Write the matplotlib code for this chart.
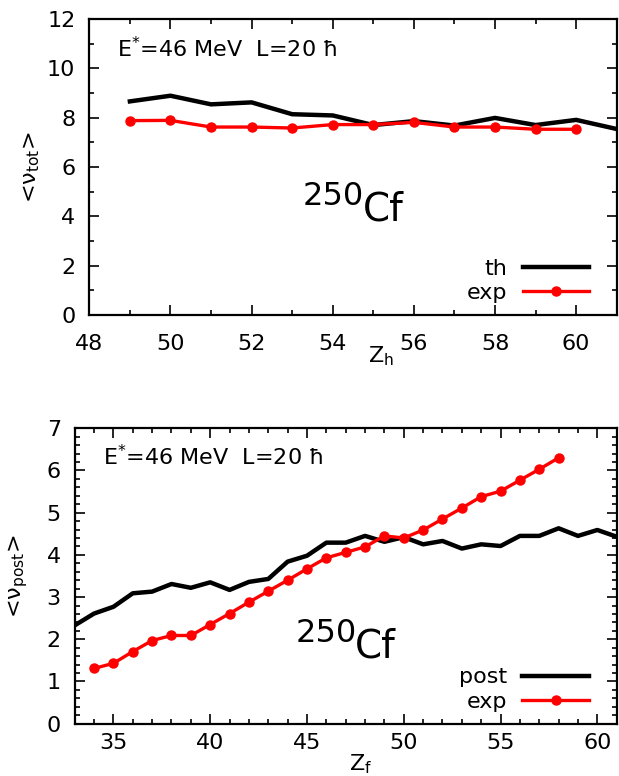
import numpy as np
import matplotlib
matplotlib.use("Agg")
from matplotlib import pyplot as plt
from matplotlib import transforms

plt.rcParams["font.family"] = ["DejaVu Sans"]
plt.rcParams["mathtext.fontset"] = "dejavusans"

# top panel: total multiplicity vs heavy fragment charge
zh_th = np.arange(49, 62)
nu_tot_th = [8.66, 8.89, 8.54, 8.62, 8.14, 8.09, 7.70, 7.86, 7.68, 7.99, 7.70, 7.91, 7.54]
zh_exp = np.arange(49, 61)
nu_tot_exp = [7.88, 7.89, 7.62, 7.62, 7.58, 7.72, 7.72, 7.81, 7.62, 7.62, 7.53, 7.53]

# bottom panel: post-scission multiplicity vs fragment charge
zf_post = np.arange(33, 62)
nu_post_th = [2.33, 2.61, 2.77, 3.09, 3.13, 3.31, 3.22, 3.35, 3.17, 3.36, 3.43, 3.84,
              3.98, 4.29, 4.29, 4.45, 4.31, 4.42, 4.25, 4.33, 4.15, 4.25, 4.21, 4.45,
              4.45, 4.63, 4.45, 4.59, 4.43]
zf_exp = np.arange(34, 59)
nu_post_exp = [1.31, 1.43, 1.71, 1.97, 2.09, 2.09, 2.35, 2.61, 2.88, 3.14, 3.40, 3.67,
               3.93, 4.06, 4.19, 4.45, 4.40, 4.59, 4.85, 5.11, 5.38, 5.51, 5.77, 6.03, 6.30]

FS = 16
fig = plt.figure(figsize=(6.19, 7.76), dpi=100)
ax1 = fig.add_axes([0.1443, 0.5941, 0.8520, 0.3814])
ax2 = fig.add_axes([0.1207, 0.0674, 0.8756, 0.3807])


def style_axes(ax, xmaj, xmin, ymaj, ymin, xpad):
    for s in ax.spines.values():
        s.set_linewidth(1.6)
    ax.xaxis.set_major_locator(plt.MultipleLocator(xmaj))
    ax.xaxis.set_minor_locator(plt.MultipleLocator(xmin))
    ax.yaxis.set_major_locator(plt.MultipleLocator(ymaj))
    ax.yaxis.set_minor_locator(plt.MultipleLocator(ymin))
    ax.tick_params(which="both", direction="in", top=True, right=True, width=1.2)
    ax.tick_params(which="major", length=7.2)
    ax.tick_params(which="minor", length=3.6)
    ax.tick_params(axis="x", labelsize=FS, pad=xpad)
    ax.tick_params(axis="y", labelsize=FS, pad=10)


def cf_label(ax, x, y):
    ax.text(x, y, "250", fontsize=23,
            transform=transforms.offset_copy(ax.transData, fig=fig, x=0, y=15, units="dots"),
            ha="left", va="baseline")
    ax.text(x, y, "Cf", fontsize=28,
            transform=transforms.offset_copy(ax.transData, fig=fig, x=60, y=0, units="dots"),
            ha="left", va="baseline")


# ---- top
ax1.plot(zh_th, nu_tot_th, color="black", lw=3.2, label="th")
ax1.plot(zh_exp, nu_tot_exp, color="red", lw=2.4, marker="o", ms=6.5, label="exp")
ax1.set_xlim(48, 61)
ax1.set_ylim(0, 12)
style_axes(ax1, 2, 1, 2, 1, 13.5)
ax1.set_xlabel("Z$_\\mathregular{h}$", fontsize=FS)
ax1.xaxis.set_label_coords(0.553, -0.098)
ax1.set_ylabel("<ν$_\\mathregular{tot}$>", fontsize=FS)
ax1.yaxis.set_label_coords(-0.09, 0.5)
ax1.text(48.67, 10.45, "E$^\\mathregular{*}$=46 MeV  L=20 ħ", fontsize=16, ha="left", va="baseline")
cf_label(ax1, 53.26, 3.85)
ax1.legend(loc="lower right", bbox_to_anchor=(0.948, 0.04), markerfirst=False, frameon=False,
           fontsize=FS, handlelength=3.0, handletextpad=0.7, labelspacing=0.2,
           borderpad=0, borderaxespad=0, numpoints=1)

# ---- bottom
ax2.plot(zf_post, nu_post_th, color="black", lw=3.2, label="post")
ax2.plot(zf_exp, nu_post_exp, color="red", lw=2.4, marker="o", ms=6.5, label="exp")
ax2.set_xlim(33, 61)
ax2.set_ylim(0, 7)
style_axes(ax2, 5, 1, 1, 0.2, 6.5)
ax2.set_xlabel("Z$_\\mathregular{f}$", fontsize=FS)
ax2.xaxis.set_label_coords(0.528, -0.098)
ax2.set_ylabel("<ν$_\\mathregular{post}$>", fontsize=FS)
ax2.yaxis.set_label_coords(-0.082, 0.5)
ax2.text(34.44, 6.12, "E$^\\mathregular{*}$=46 MeV  L=20 ħ", fontsize=16, ha="left", va="baseline")
cf_label(ax2, 44.39, 1.57)
ax2.legend(loc="lower right", bbox_to_anchor=(0.949, 0.04), markerfirst=False, frameon=False,
           fontsize=FS, handlelength=3.0, handletextpad=0.7, labelspacing=0.2,
           borderpad=0, borderaxespad=0, numpoints=1)

fig.savefig("out.png", dpi=100)
